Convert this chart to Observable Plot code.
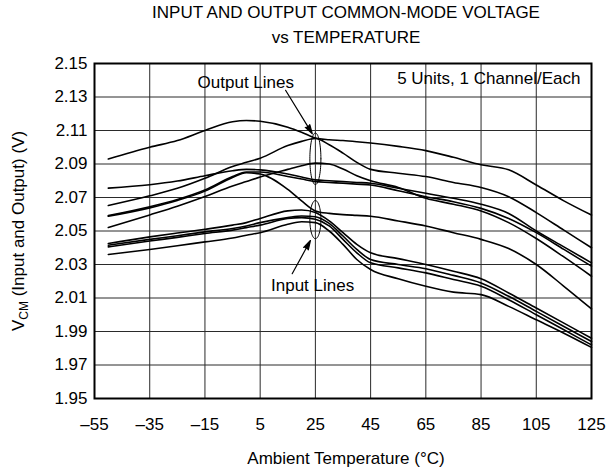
<!DOCTYPE html>
<html>
<head>
<meta charset="utf-8">
<script src="https://cdn.jsdelivr.net/npm/d3@7"></script>
<script src="https://cdn.jsdelivr.net/npm/@observablehq/plot@0.6"></script>
<style>
  html, body { margin: 0; padding: 0; background: #fff; }
  svg { font-family: "Liberation Sans", Arial, sans-serif; }
</style>
</head>
<body>
<div id="chart"></div>
<script>
// Temperature points (°C)
const temps = [-50, -35, -25, -15, -5, 0, 5, 15, 20, 25, 30, 35, 40, 45, 55, 65, 75, 85, 95, 105, 115, 125];

// Output common-mode lines (V)
const outA = [2.093, 2.100, 2.104, 2.110, 2.1152, 2.116, 2.1155, 2.112, 2.109, 2.1055, 2.1045, 2.104, 2.1033, 2.1025, 2.1005, 2.098, 2.094, 2.0895, 2.0865, 2.0775, 2.068, 2.0595];
const outB = [2.0652, 2.071, 2.0755, 2.0815, 2.0885, 2.091, 2.0935, 2.101, 2.1035, 2.1052, 2.1015, 2.0965, 2.091, 2.0868, 2.0845, 2.0825, 2.079, 2.076, 2.0705, 2.061, 2.0505, 2.040];
const outC = [2.0756, 2.0776, 2.0798, 2.083, 2.086, 2.0868, 2.0865, 2.084, 2.0822, 2.0805, 2.080, 2.0795, 2.079, 2.0785, 2.0755, 2.0725, 2.0695, 2.066, 2.0605, 2.050, 2.0405, 2.031];
const outD = [2.0592, 2.0645, 2.0688, 2.0745, 2.0825, 2.0852, 2.0852, 2.0825, 2.081, 2.0795, 2.079, 2.0785, 2.078, 2.0775, 2.074, 2.0705, 2.0675, 2.0635, 2.0575, 2.049, 2.039, 2.029];
const outE = [2.0588, 2.0638, 2.0682, 2.0738, 2.082, 2.0848, 2.084, 2.0748, 2.068, 2.062, 2.0605, 2.0598, 2.0593, 2.0588, 2.056, 2.053, 2.049, 2.045, 2.0395, 2.030, 2.017, 2.0035];
const outF = [2.0521, 2.0596, 2.0648, 2.0706, 2.0768, 2.0795, 2.0822, 2.0868, 2.089, 2.0905, 2.090, 2.087, 2.083, 2.080, 2.076, 2.0695, 2.066, 2.062, 2.055, 2.0455, 2.0345, 2.023];

// Input common-mode lines (V)
const inA = [2.0425, 2.0465, 2.0488, 2.051, 2.0535, 2.055, 2.0575, 2.062, 2.0625, 2.061, 2.056, 2.049, 2.042, 2.037, 2.0335, 2.030, 2.026, 2.0215, 2.013, 2.004, 1.995, 1.986];
const inB = [2.0415, 2.045, 2.0472, 2.0495, 2.0515, 2.053, 2.055, 2.058, 2.059, 2.0585, 2.0545, 2.047, 2.039, 2.033, 2.030, 2.0275, 2.0235, 2.019, 2.011, 2.002, 1.993, 1.984];
const inC = [2.0405, 2.044, 2.0462, 2.0485, 2.0505, 2.052, 2.0535, 2.0575, 2.058, 2.057, 2.053, 2.045, 2.037, 2.031, 2.028, 2.025, 2.021, 2.017, 2.009, 2.000, 1.991, 1.982];
const inD = [2.036, 2.039, 2.0412, 2.0435, 2.0458, 2.0475, 2.049, 2.054, 2.0555, 2.055, 2.050, 2.042, 2.033, 2.027, 2.0215, 2.017, 2.0135, 2.012, 2.005, 1.997, 1.989, 1.9805];

const seriesNames = ["outA", "outB", "outC", "outD", "outE", "outF", "inA", "inB", "inC", "inD"];
const seriesValues = [outA, outB, outC, outD, outE, outF, inA, inB, inC, inD];

// Axis ticks
const xTicks = [-55, -35, -15, 5, 25, 45, 65, 85, 105, 125];
const yTicks = [1.95, 1.97, 1.99, 2.01, 2.03, 2.05, 2.07, 2.09, 2.11, 2.13, 2.15];

// Texts
const titleLines = ["INPUT AND OUTPUT COMMON-MODE VOLTAGE", "vs TEMPERATURE"];
const xTitle = "Ambient Temperature (°C)";
const yTitle = "VCM (Input and Output) (V)";
const noteText = "5 Units, 1 Channel/Each";

// Annotation: labels, arrows and ellipses (data units)
const annLabels = ["Output Lines", "Input Lines"];
const annLabelX = [-0.2, 24];
const annLabelY = [2.1388, 2.0175];
const arrowFromX = [14.2, 16.6];
const arrowFromY = [2.134, 2.0245];
const arrowToX = [23.9, 23.2];
const arrowToY = [2.108, 2.0443];
const ellCenterX = [25, 25];
const ellCenterY = [2.0931, 2.0568];
const ellRadX = [2.0, 2.0];
const ellRadY = [0.0154, 0.0114];

const data = [];
seriesNames.forEach((name, i) => {
  temps.forEach((t, j) => data.push({series: name, t, v: seriesValues[i][j]}));
});

const ellipsePts = [];
ellCenterX.forEach((cx, k) => {
  for (let a = 0; a <= 72; a++) {
    const th = a / 72 * 2 * Math.PI;
    ellipsePts.push({k, t: cx + ellRadX[k] * Math.cos(th), v: ellCenterY[k] + ellRadY[k] * Math.sin(th)});
  }
});

const arrows = annLabels.map((_, i) => ({x1: arrowFromX[i], y1: arrowFromY[i], x2: arrowToX[i], y2: arrowToY[i]}));
const labels = annLabels.map((s, i) => ({s, x: annLabelX[i], y: annLabelY[i]}));

const fs = 17;
const plot = Plot.plot({
  width: 608,
  height: 473,
  marginTop: 63,
  marginLeft: 94,
  marginRight: 17,
  marginBottom: 75,
  style: {fontFamily: '"Liberation Sans", Arial, sans-serif', fontSize: fs + "px", background: "#fff", color: "#000"},
  x: {domain: [-55, 125]},
  y: {domain: [1.95, 2.15]},
  marks: [
    Plot.gridX(xTicks, {stroke: "#2a2a2a", strokeOpacity: 1, strokeWidth: 1}),
    Plot.gridY(yTicks, {stroke: "#2a2a2a", strokeOpacity: 1, strokeWidth: 1}),
    Plot.axisX(xTicks, {tickSize: 0, tickPadding: 19, fontSize: fs, label: null,
      tickFormat: d => d < 0 ? "\u2013" + (-d) : String(d)}),
    Plot.axisY(yTicks, {tickSize: 0, tickPadding: 7, fontSize: fs, label: null,
      tickFormat: d3.format(".2f")}),
    Plot.line(data, {x: "t", y: "v", z: "series", stroke: "#000", strokeWidth: 1.6, curve: "monotone-x"}),
    Plot.line(ellipsePts, {x: "t", y: "v", z: "k", stroke: "#000", strokeWidth: 1}),
    Plot.arrow(arrows, {x1: "x1", y1: "y1", x2: "x2", y2: "y2", stroke: "#000", fill: "#000", strokeWidth: 1.2, headLength: 12, headAngle: 32}),
    Plot.text(labels, {x: "x", y: "y", text: "s", fontSize: fs, fill: "#000"}),
    Plot.text([noteText], {frameAnchor: "top-right", lineAnchor: "middle", textAnchor: "end", dx: -11, dy: 15, fontSize: fs, fill: "#000"}),
    Plot.frame({stroke: "#000", strokeWidth: 2}),
    Plot.text([titleLines[0]], {frameAnchor: "top", lineAnchor: "middle", dy: -51, dx: 3, fontSize: fs, fill: "#000"}),
    Plot.text([titleLines[1]], {frameAnchor: "top", lineAnchor: "middle", dy: -26, dx: 3, fontSize: fs, fill: "#000"}),
    Plot.text([xTitle], {frameAnchor: "bottom", lineAnchor: "middle", dy: 60, dx: 3, fontSize: fs, fill: "#000"}),
    Plot.text([yTitle], {frameAnchor: "left", textAnchor: "middle", lineAnchor: "middle", dx: -76, rotate: -90, fontSize: fs, fill: "#000"})
  ]
});

// Subscript "CM" in the y-axis title
plot.querySelectorAll("text").forEach(el => {
  if (el.textContent === yTitle) {
    el.textContent = "";
    const ns = "http://www.w3.org/2000/svg";
    const t1 = document.createElementNS(ns, "tspan"); t1.textContent = "V";
    const t2 = document.createElementNS(ns, "tspan"); t2.textContent = "CM";
    t2.setAttribute("font-size", "12px"); t2.setAttribute("dy", "4");
    const t3 = document.createElementNS(ns, "tspan"); t3.textContent = " (Input and Output) (V)";
    t3.setAttribute("dy", "-4");
    el.appendChild(t1); el.appendChild(t2); el.appendChild(t3);
  }
});

document.getElementById("chart").appendChild(plot);
</script>
</body>
</html>
